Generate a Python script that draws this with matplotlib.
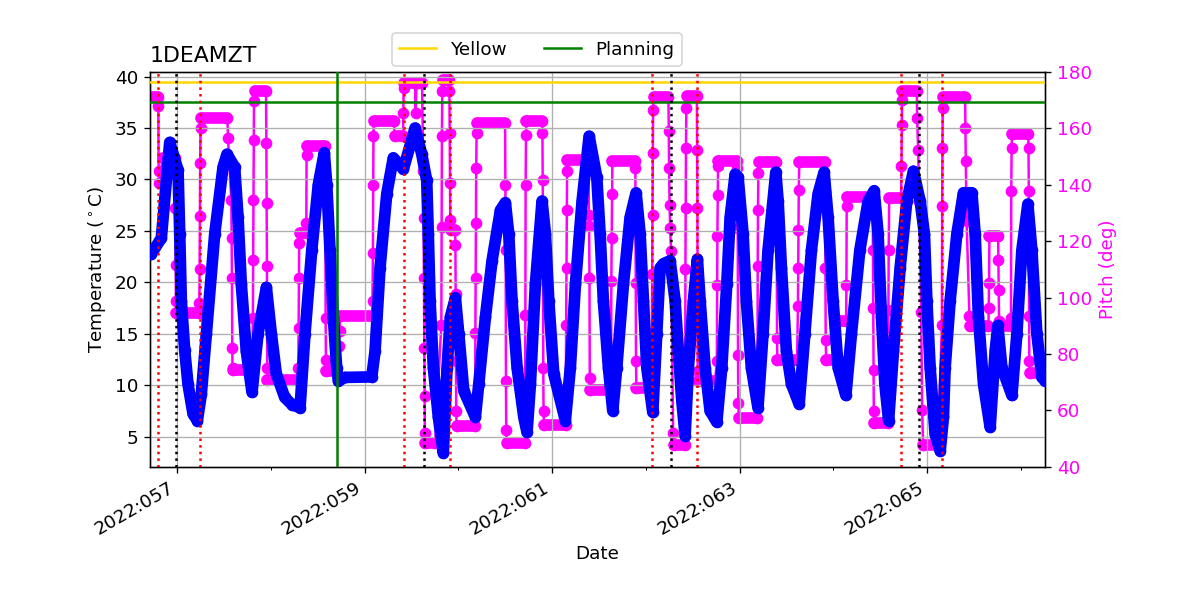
import matplotlib
matplotlib.use("Agg")
import matplotlib.pyplot as plt
from matplotlib.ticker import FixedLocator, FuncFormatter

plt.rcParams['font.size'] = 11

# ---------------- data (day of year 2022) ----------------
temp_day = [56.723, 56.833, 56.922, 57.011, 57.029, 57.046, 57.082, 57.117, 57.171, 57.217,
            57.259, 57.313, 57.402, 57.491, 57.533, 57.615, 57.651, 57.686, 57.739, 57.800,
            57.864, 57.953, 58.006, 58.059, 58.149, 58.227, 58.312, 58.365, 58.437, 58.507,
            58.571, 58.597, 58.632, 58.667, 58.703, 58.721, 58.792, 59.077, 59.112, 59.165,
            59.237, 59.307, 59.414, 59.539, 59.610, 59.663, 59.680, 59.699, 59.734, 59.787,
            59.840, 59.880, 59.915, 59.969, 60.005, 60.058, 60.182, 60.218, 60.289, 60.360,
            60.449, 60.502, 60.538, 60.573, 60.627, 60.698, 60.733, 60.769, 60.822, 60.893,
            60.929, 60.965, 61.018, 61.142, 61.195, 61.249, 61.320, 61.395, 61.477, 61.512,
            61.547, 61.601, 61.647, 61.690, 61.761, 61.832, 61.896, 61.939, 61.974, 62.010,
            62.074, 62.117, 62.152, 62.187, 62.259, 62.312, 62.347, 62.383, 62.419, 62.454,
            62.507, 62.550, 62.579, 62.632, 62.685, 62.757, 62.810, 62.863, 62.899, 62.952,
            62.984, 63.037, 63.072, 63.125, 63.196, 63.250, 63.303, 63.386, 63.411, 63.446,
            63.499, 63.553, 63.635, 63.696, 63.766, 63.837, 63.901, 63.944, 63.997, 64.051,
            64.133, 64.193, 64.282, 64.371, 64.435, 64.477, 64.513, 64.549, 64.589, 64.641,
            64.712, 64.783, 64.854, 64.925, 64.971, 64.997, 65.032, 65.085, 65.139, 65.174,
            65.192, 65.245, 65.317, 65.387, 65.477, 65.512, 65.547, 65.601, 65.672, 65.725,
            65.754, 65.797, 65.904, 65.957, 66.010, 66.074, 66.117, 66.170, 66.223, 66.259]
temp_val = [22.7, 24.3, 33.6, 30.9, 24.7, 18.2, 13.4, 10.1, 7.2, 6.55,
            9.1, 15.0, 24.7, 31.2, 32.45, 31.2, 26.3, 19.8, 13.3, 9.3,
            15.0, 19.5, 15.0, 11.1, 8.8, 8.1, 7.8, 15.0, 23.1, 29.5,
            32.6, 29.5, 23.1, 16.6, 11.7, 10.4, 10.75, 10.8, 13.3, 21.4,
            28.6, 32.1, 31.0, 35.0, 32.45, 29.9, 24.7, 18.2, 11.7, 6.9,
            3.4, 11.7, 16.6, 18.5, 15.0, 9.45, 6.9, 10.1, 16.6, 22.1,
            27.0, 27.75, 24.7, 18.2, 11.7, 6.9, 5.4, 10.1, 19.8, 27.9,
            24.7, 18.2, 11.1, 6.55, 11.7, 19.8, 27.9, 34.2, 30.2, 24.7,
            18.2, 11.7, 7.5, 11.7, 19.8, 26.3, 28.7, 24.7, 18.2, 11.7,
            7.35, 15.0, 21.4, 21.8, 22.1, 18.2, 13.3, 8.5, 5.1, 11.7,
            18.2, 22.25, 18.2, 11.7, 7.5, 6.4, 11.7, 19.8, 26.3, 30.5,
            30.2, 24.7, 18.2, 11.7, 7.8, 15.0, 23.1, 30.7, 27.9, 21.4,
            13.3, 10.1, 8.15, 15.0, 23.1, 28.6, 30.7, 26.3, 18.2, 11.7,
            9.0, 15.0, 23.1, 27.9, 28.9, 24.7, 16.6, 10.1, 6.55, 13.3,
            21.4, 27.9, 30.8, 27.9, 24.7, 18.2, 11.7, 5.25, 3.6, 6.9,
            11.7, 18.2, 24.7, 28.7, 28.7, 24.7, 16.6, 10.1, 5.9, 13.3,
            15.8, 11.7, 9.0, 15.0, 23.1, 27.6, 23.1, 15.0, 10.75, 10.4]

pitch_day = [56.723, 56.797, 56.801, 56.804, 56.808, 56.851, 56.979, 56.982, 56.985, 56.988,
             56.991, 57.235, 57.238, 57.241, 57.244, 57.247, 57.251, 57.256, 57.537, 57.544,
             57.579, 57.582, 57.586, 57.589, 57.592, 57.597, 57.805, 57.809, 57.812, 57.815,
             57.818, 57.821, 57.827, 57.949, 57.953, 57.956, 57.959, 57.962, 57.965, 58.291,
             58.294, 58.297, 58.300, 58.303, 58.307, 58.376, 58.379, 58.382, 58.387, 58.579,
             58.582, 58.585, 58.588, 58.591, 58.685, 58.723, 58.733, 58.739, 59.080, 59.085,
             59.089, 59.092, 59.095, 59.098, 59.315, 59.320, 59.411, 59.414, 59.417, 59.421,
             59.539, 59.544, 59.555, 59.613, 59.627, 59.630, 59.633, 59.637, 59.640, 59.643,
             59.647, 59.752, 59.819, 59.822, 59.825, 59.829, 59.833, 59.901, 59.905, 59.908,
             59.911, 59.914, 59.918, 59.965, 59.969, 59.972, 59.975, 59.978, 59.982, 60.179,
             60.182, 60.185, 60.188, 60.191, 60.195, 60.200, 60.499, 60.502, 60.505, 60.508,
             60.511, 60.516, 60.712, 60.715, 60.718, 60.722, 60.726, 60.893, 60.897, 60.900,
             60.903, 60.906, 60.909, 60.914, 61.144, 61.147, 61.150, 61.154, 61.157, 61.160,
             61.164, 61.389, 61.392, 61.395, 61.399, 61.402, 61.405, 61.629, 61.632, 61.636,
             61.639, 61.643, 61.885, 61.888, 61.892, 61.895, 61.899, 62.061, 62.064, 62.068,
             62.071, 62.074, 62.077, 62.082, 62.241, 62.244, 62.248, 62.253, 62.259, 62.269,
             62.291, 62.301, 62.419, 62.422, 62.425, 62.428, 62.432, 62.436, 62.544, 62.547,
             62.550, 62.553, 62.557, 62.739, 62.757, 62.760, 62.763, 62.767, 62.770, 62.774,
             62.971, 62.974, 62.977, 62.980, 62.983, 62.986, 62.991, 63.190, 63.193, 63.196,
             63.200, 63.204, 63.393, 63.396, 63.399, 63.403, 63.613, 63.622, 63.625, 63.628,
             63.631, 63.636, 63.909, 63.912, 63.915, 63.918, 63.923, 64.056, 64.061, 64.136,
             64.139, 64.142, 64.147, 64.419, 64.422, 64.425, 64.428, 64.431, 64.436, 64.584,
             64.587, 64.590, 64.595, 64.723, 64.726, 64.729, 64.732, 64.737, 64.890, 64.893,
             64.904, 64.915, 64.936, 64.947, 64.957, 65.117, 65.157, 65.160, 65.163, 65.166,
             65.171, 65.405, 65.408, 65.412, 65.421, 65.451, 65.459, 65.654, 65.657, 65.660,
             65.664, 65.757, 65.760, 65.763, 65.767, 65.771, 65.891, 65.894, 65.897, 65.901,
             65.905, 66.077, 66.081, 66.084, 66.087, 66.090, 66.094, 66.259]
pitch_val = [171.0, 171.0, 167.8, 144.8, 140.6, 149.5, 149.5, 131.8, 111.7, 98.7,
             94.6, 94.6, 98.1, 110.0, 128.8, 147.7, 160.1, 163.7, 163.7, 156.6,
             134.7, 121.2, 107.0, 82.2, 75.1, 74.5, 74.5, 92.8, 113.5, 134.7,
             156.0, 169.6, 173.4, 173.4, 154.8, 133.6, 111.1, 75.1, 70.9, 70.9,
             75.1, 89.3, 107.0, 119.4, 122.9, 122.9, 126.5, 150.7, 153.6, 153.6,
             135.3, 92.8, 78.0, 73.9, 73.9, 83.0, 88.0, 93.4, 93.4, 98.7,
             115.8, 140.0, 157.2, 162.5, 162.5, 157.2, 157.2, 165.5, 174.3, 176.1,
             176.1, 165.5, 176.1, 176.1, 144.8, 128.2, 107.0, 82.2, 65.0, 52.0,
             48.5, 48.5, 90.4, 125.0, 157.2, 173.2, 177.3, 177.3, 173.2, 158.4,
             140.6, 127.6, 124.1, 124.1, 118.8, 101.1, 77.4, 59.7, 54.4, 54.4,
             87.5, 107.0, 126.5, 146.0, 158.4, 161.9, 161.9, 140.0, 117.0, 70.4,
             53.2, 48.5, 48.5, 94.0, 140.0, 157.8, 162.7, 162.7, 158.4, 141.8,
             117.6, 75.1, 59.7, 55.0, 55.0, 68.0, 90.4, 110.5, 131.2, 144.8,
             148.9, 148.9, 129.4, 125.3, 107.0, 71.5, 67.4, 67.4, 105.8, 121.2,
             136.8, 148.6, 148.6, 146.0, 105.2, 77.4, 68.0, 68.0, 87.5, 108.2,
             129.4, 151.3, 166.6, 171.0, 171.0, 159.0, 146.0, 133.0, 124.7, 116.4,
             52.0, 47.9, 47.9, 110.0, 131.8, 153.1, 167.2, 171.4, 171.4, 152.5,
             131.8, 73.9, 70.5, 70.5, 77.4, 104.6, 121.8, 136.5, 146.6, 148.3,
             148.3, 146.0, 129.4, 124.7, 79.8, 62.7, 57.3, 57.3, 111.1, 131.2,
             144.2, 148.1, 148.1, 125.9, 85.7, 77.7, 77.7, 96.9, 110.5, 124.1,
             138.3, 148.1, 148.1, 137.7, 110.5, 85.1, 77.7, 77.7, 91.6, 91.6,
             104.6, 132.4, 135.6, 135.6, 117.0, 96.3, 74.5, 59.7, 55.6, 55.6,
             95.7, 117.0, 135.3, 135.3, 146.6, 161.3, 170.2, 173.4, 173.4, 163.7,
             152.5, 134.2, 95.0, 60.0, 47.9, 47.9, 90.4, 132.4, 153.1, 167.2,
             171.0, 171.0, 160.1, 148.3, 127.1, 93.4, 89.9, 89.9, 96.3, 105.2,
             121.8, 121.8, 113.5, 102.8, 91.6, 89.9, 89.9, 92.6, 137.7, 153.1,
             158.1, 158.1, 153.1, 137.7, 93.4, 77.4, 73.3, 73.3]

red_events = [56.797, 57.249, 59.421, 59.916, 62.070, 62.550, 64.723, 65.163]
black_events = [56.993, 59.638, 62.269, 64.918]
green_event = 58.710
yellow_limit = 39.5
planning_limit = 37.5

major_days = [57, 59, 61, 63, 65]
minor_days = [58, 60, 62, 64, 66]
temp_ticks = [5, 10, 15, 20, 25, 30, 35, 40]
pitch_ticks = [40, 60, 80, 100, 120, 140, 160, 180]

# ---------------- figure ----------------
fig = plt.figure(figsize=(10, 5), dpi=120)
ax = fig.add_axes([0.125, 0.222, 0.746, 0.658])
ax2 = ax.twinx()
ax.set_zorder(ax2.get_zorder() + 1)
ax.patch.set_visible(False)

# pitch (right axis)
ax2.plot(pitch_day, pitch_val, color='magenta', lw=1.5, marker='o', ms=6, zorder=2)
for i in range(len(pitch_day) - 1):
    if pitch_val[i] == pitch_val[i + 1]:
        ax2.plot(pitch_day[i:i + 2], pitch_val[i:i + 2], color='magenta', lw=7,
                 solid_capstyle='round', zorder=2)
ax2.set_ylim(40, 180)
ax2.set_yticks(pitch_ticks)
ax2.tick_params(axis='y', labelcolor='magenta')
ax2.set_ylabel('Pitch (deg)', color='magenta')

# temperature (left axis)
ax.plot(temp_day, temp_val, color='blue', lw=7, solid_capstyle='round',
        solid_joinstyle='round', marker='o', ms=6, zorder=3)
ax.axhline(yellow_limit, color='gold', lw=1.5, label='Yellow', zorder=4)
ax.axhline(planning_limit, color='green', lw=1.5, label='Planning', zorder=4)
for d in red_events:
    ax.axvline(d, color='red', ls=':', lw=1.5, zorder=4)
for d in black_events:
    ax.axvline(d, color='black', ls=':', lw=1.5, zorder=4)
ax.axvline(green_event, color='green', lw=1.5, zorder=4)

ax.set_xlim(56.712, 66.259)
ax.set_ylim(2.06, 40.44)
ax.set_yticks(temp_ticks)
ax.xaxis.set_major_locator(FixedLocator(major_days))
ax.xaxis.set_minor_locator(FixedLocator(minor_days))
ax.xaxis.set_major_formatter(FuncFormatter(lambda v, p: "2022:%03d" % int(round(v))))
ax.grid(True, which='major')
for lbl in ax.get_xticklabels():
    lbl.set_rotation(30)
    lbl.set_ha('right')

ax.set_xlabel('Date')
ax.set_ylabel(r'Temperature ($^\circ$C)')
ax.set_title('1DEAMZT', loc='left')
ax.legend(loc='lower center', bbox_to_anchor=(0.432, 1.015), ncol=2, borderaxespad=0)

fig.savefig('out.png', dpi=120)
